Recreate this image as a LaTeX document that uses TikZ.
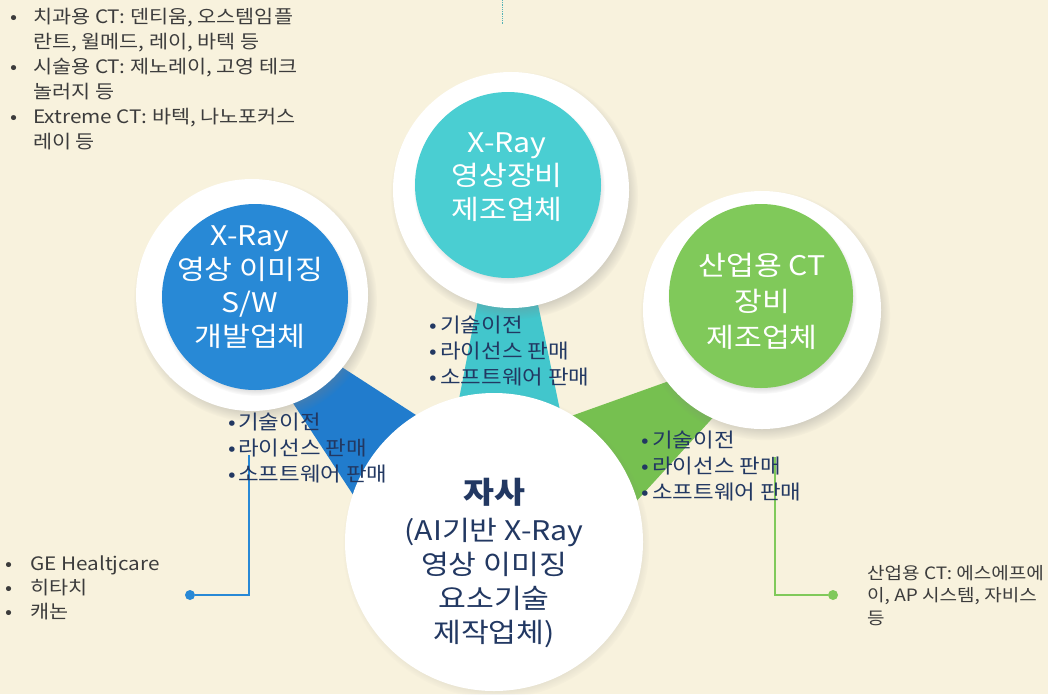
\documentclass[tikz,border=0pt]{standalone}
\usepackage{fontspec}
\setmainfont{Noto Sans CJK KR}
\newfontfamily\widekr[FakeStretch=1.12]{Noto Sans CJK KR}
\usetikzlibrary{shadows,fadings}
\definecolor{bg}{RGB}{248,242,221}
\definecolor{cblue}{RGB}{40,137,214}
\definecolor{cbluew}{RGB}{33,124,205}
\definecolor{cteal}{RGB}{74,206,210}
\definecolor{ctealw}{RGB}{66,198,204}
\definecolor{cgreen}{RGB}{128,201,90}
\definecolor{cgreenw}{RGB}{118,192,80}
\definecolor{navy}{RGB}{34,56,98}
\definecolor{greytext}{RGB}{60,60,60}
\begin{document}
\begin{tikzpicture}[x=1pt,y=-1pt,
  ringbox/.style={circle, fill=white, inner sep=0pt, outer sep=0pt, minimum size=#1,
    circular drop shadow={shadow xshift=3pt, shadow yshift=-5pt, opacity=0.45, shadow scale=1.05}},
  discbox/.style={circle, inner sep=0pt, outer sep=0pt, minimum size=#1,
    circular drop shadow={shadow xshift=1pt, shadow yshift=-3pt, opacity=0.55, shadow scale=1.03}},
  inlabel/.style={text=white, align=center, inner sep=0pt, font=\widekr\fontsize{27}{33.5}\selectfont},
  selflabel/.style={text=navy, align=center, inner sep=0pt, font=\widekr\fontsize{27}{34}\selectfont},
  wlabel/.style={text=navy, align=left, anchor=north west, inner sep=0pt, font=\widekr\fontsize{20}{26}\selectfont},
  sidetext/.style={text=greytext, align=left, anchor=north west, inner sep=0pt},
  linkline/.style={line width=1.2pt},
  enddot/.style={circle, inner sep=0pt, minimum size=10pt}
]
\useasboundingbox (0,0) rectangle (1048,694);
\fill[bg] (0,0) rectangle (1048,694);

% wedges (behind the circles)
\fill[cbluew] (270,368) -- (320,353) -- (450,437) -- (365,513) -- cycle;
\fill[ctealw] (480,290) -- (535,290) -- (562,420) -- (455,420) -- cycle;
\fill[cgreenw] (700,370) -- (740,388) -- (610,530) -- (560,420) -- cycle;

% outer white rings
\node[ringbox=232pt] (bluering) at (252,295) {};
\node[ringbox=236pt] (tealring) at (511,190) {};
\node[ringbox=238pt] (greenring) at (762,310) {};

% coloured discs
\node[discbox=186pt, fill=cblue] (bluedisc) at (255,297) {};
\node[discbox=186pt, fill=cteal] (tealdisc) at (508,185) {};
\node[discbox=184pt, fill=cgreen] (greendisc) at (761,296) {};

% centre circle
\node[circle, fill=white, inner sep=0pt, minimum size=298pt,
  circular drop shadow={shadow xshift=2pt, shadow yshift=-3pt, opacity=0.35, shadow scale=1.03}] (self) at (494,542) {};

% circle labels
\node[inlabel] (bluetext) at (250,287) {X-Ray\\영상 이미징\\S/W\\개발업체};
\node[inlabel] (tealtext) at (507,177) {X-Ray\\영상장비\\제조업체};
\node[inlabel, font=\widekr\fontsize{27}{36}\selectfont] (greentext) at (762,301) {산업용 CT\\장비\\제조업체};
\node[text=navy, inner sep=0pt, font=\widekr\fontsize{30}{36}\selectfont\bfseries] (selftitle) at (494,492) {자사};
\node[selflabel] (selftext) at (494,583) {(AI기반 X-Ray\\영상 이미징\\요소기술\\제작업체)};

% connector lines with end dots
\coordinate (bluestart) at (249,455);
\node[enddot, fill=cblue] (bluedot) at (190,595) {};
\draw[linkline, cblue] (bluestart) |- (bluedot);
\coordinate (greenstart) at (775,457);
\node[enddot, fill=cgreen] (greendot) at (833,595) {};
\draw[linkline, cgreen] (greenstart) |- (greendot);
\coordinate (tealtop) at (502,0);
\coordinate (tealtopend) at (502,25);
\draw[line width=0.8pt, ctealw!70!gray, densely dotted] (tealtop) -- (tealtopend);

% wedge labels
\node[wlabel] (bluelist) at (228,413) {\makebox[10pt][l]{•}기술이전\\\makebox[10pt][l]{•}라이선스 판매\\\makebox[10pt][l]{•}소프트웨어 판매};
\node[wlabel] (teallist) at (429,316) {\makebox[11pt][l]{•}기술이전\\\makebox[11pt][l]{•}라이선스 판매\\\makebox[11pt][l]{•}소프트웨어 판매};
\node[wlabel] (greenlist) at (641,431) {\makebox[11pt][l]{•}기술이전\\\makebox[11pt][l]{•}라이선스 판매\\\makebox[11pt][l]{•}소프트웨어 판매};

% side texts
\node[sidetext, font=\widekr\fontsize{18.5}{25}\selectfont] (medical) at (10,8) {\makebox[23pt][l]{•}치과용 CT: 덴티움, 오스템임플\\\hspace*{23pt}란트, 윌메드, 레이, 바텍 등\\\makebox[23pt][l]{•}시술용 CT: 제노레이, 고영 테크\\\hspace*{23pt}놀러지 등\\\makebox[23pt][l]{•}Extreme CT: 바텍, 나노포커스\\\hspace*{23pt}레이 등};
\node[sidetext, font=\widekr\fontsize{18.5}{24}\selectfont] (global) at (5,556) {\makebox[25pt][l]{•}GE Healtjcare\\\makebox[25pt][l]{•}히타치\\\makebox[25pt][l]{•}캐논};
\node[sidetext, font=\widekr\fontsize{17}{22.5}\selectfont] (industrial) at (867,565) {산업용 CT: 에스에프에\\이, AP 시스템, 자비스\\등};
\end{tikzpicture}
\end{document}
